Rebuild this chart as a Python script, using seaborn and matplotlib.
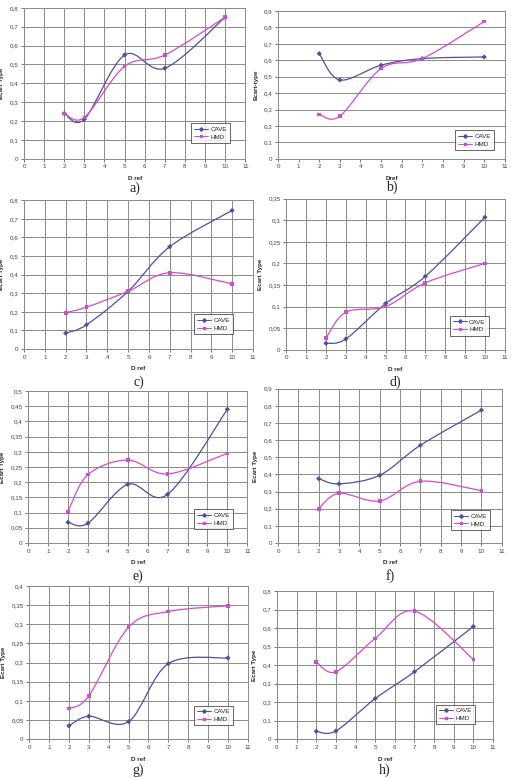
import numpy as np
import pandas as pd
import matplotlib
matplotlib.use("Agg")
import matplotlib.pyplot as plt
from matplotlib.path import Path
from matplotlib.patches import PathPatch
from matplotlib.lines import Line2D
from matplotlib.ticker import FuncFormatter, MultipleLocator
import seaborn as sns

d_ref = [2, 3, 5, 7, 10]

cave_a = [0.24, 0.21, 0.55, 0.48, 0.75]
hmd_a = [0.24, 0.22, 0.49, 0.55, 0.75]
cave_b = [0.64, 0.48, 0.57, 0.61, 0.62]
hmd_b = [0.27, 0.26, 0.55, 0.61, 0.835]
cave_c = [0.085, 0.13, 0.31, 0.55, 0.745]
hmd_c = [0.195, 0.225, 0.31, 0.41, 0.35]
cave_d = [0.015, 0.025, 0.107, 0.17, 0.307]
hmd_d = [0.027, 0.087, 0.1, 0.155, 0.2]
cave_e = [0.068, 0.065, 0.193, 0.16, 0.44]
hmd_e = [0.103, 0.225, 0.273, 0.227, 0.295]
cave_f = [0.375, 0.345, 0.395, 0.57, 0.775]
hmd_f = [0.2, 0.29, 0.245, 0.36, 0.305]
cave_g = [0.035, 0.06, 0.046, 0.197, 0.212]
hmd_g = [0.08, 0.113, 0.292, 0.333, 0.348]
cave_h = [0.043, 0.045, 0.22, 0.365, 0.61]
hmd_h = [0.418, 0.365, 0.545, 0.693, 0.432]

panel_labels = ['a)', 'b)', 'c)', 'd)', 'e)', 'f)', 'g)', 'h)']
ymax = [0.8, 0.9, 0.8, 0.35, 0.5, 0.9, 0.4, 0.8]
ystep = [0.1, 0.1, 0.1, 0.05, 0.05, 0.1, 0.05, 0.1]
xlabels = ['D ref', 'Dref', 'D ref', 'D ref', 'D ref', 'D ref', 'D ref', 'D ref']
ylabels = ['Ecart Type', 'Ecart-type', 'Ecart Type', 'Ecart Type',
           'Ecart Type', 'Ecart Type', 'Ecart Type', 'Ecart Type']
series = [(cave_a, hmd_a), (cave_b, hmd_b), (cave_c, hmd_c), (cave_d, hmd_d),
          (cave_e, hmd_e), (cave_f, hmd_f), (cave_g, hmd_g), (cave_h, hmd_h)]

# axes boxes in figure fraction [left, bottom, width, height]
boxes = [
    [0.047, 0.796, 0.432, 0.194],
    [0.543, 0.796, 0.443, 0.190],
    [0.047, 0.552, 0.447, 0.191],
    [0.559, 0.551, 0.427, 0.194],
    [0.055, 0.303, 0.428, 0.195],
    [0.543, 0.303, 0.437, 0.198],
    [0.057, 0.051, 0.427, 0.197],
    [0.541, 0.051, 0.422, 0.190],
]
legend_anchor = [(0.946, 0.086), (0.965, 0.04), (0.926, 0.08), (0.94, 0.073),
                 (0.95, 0.072), (0.96, 0.065), (0.945, 0.072), (0.93, 0.08)]
label_y = [0.750, 0.751, 0.501, 0.501, 0.251, 0.251, 0.002, 0.002]

colors = {'CAVE': '#4f4f9e', 'HMD': '#d04ccc'}
markers = {'CAVE': 'D', 'HMD': 's'}

sns.set_theme(style="white")
plt.rcParams['font.family'] = ['Liberation Sans', 'DejaVu Sans']


def smooth_path(xs, ys):
    # excel-like smoothed line: cubic bezier through the points
    p = np.column_stack([xs, ys]).astype(float)
    n = len(p)
    verts = [p[0]]
    codes = [Path.MOVETO]
    for i in range(n - 1):
        prev = p[max(i - 1, 0)]
        nxt = p[min(i + 2, n - 1)]
        c1 = p[i] + (p[i + 1] - prev) / 6
        c2 = p[i + 1] - (nxt - p[i]) / 6
        verts += [c1, c2, p[i + 1]]
        codes += [Path.CURVE4] * 3
    return Path(verts, codes)


fmt = FuncFormatter(lambda v, pos: f"{v:.2f}".rstrip('0').rstrip('.').replace('.', ','))

fig = plt.figure(figsize=(5.12, 7.79), dpi=100)

for k, (cave, hmd) in enumerate(series):
    ax = fig.add_axes(boxes[k])
    df = pd.DataFrame({
        'D ref': d_ref * 2,
        'Ecart Type': cave + hmd,
        'Serie': ['CAVE'] * len(d_ref) + ['HMD'] * len(d_ref),
    })
    for name, vals in [('CAVE', cave), ('HMD', hmd)]:
        ax.add_patch(PathPatch(smooth_path(d_ref, vals), facecolor='none',
                               edgecolor=colors[name], lw=0.9, zorder=3))
    sns.scatterplot(data=df, x='D ref', y='Ecart Type', hue='Serie', style='Serie',
                    palette=colors, markers=markers, s=7, linewidth=0,
                    legend=False, ax=ax, zorder=4)

    ax.set_xlim(0, 11)
    ax.set_ylim(0, ymax[k])
    ax.xaxis.set_major_locator(MultipleLocator(1))
    ax.yaxis.set_major_locator(MultipleLocator(ystep[k]))
    ax.yaxis.set_major_formatter(fmt)
    ax.grid(True, axis='y', color='#8a8a8a', lw=0.7)
    if k != 1:
        ax.grid(True, axis='x', color='#8a8a8a', lw=0.7)
    for s in ax.spines.values():
        s.set_color('#8a8a8a')
        s.set_linewidth(0.7)
    ax.tick_params(labelsize=4.5, length=2, width=0.5, pad=2,
                   colors='#444444', direction='out', bottom=True, left=True)
    ax.set_xlabel(xlabels[k], fontsize=4.5, fontweight='bold', labelpad=5)
    ax.set_ylabel(ylabels[k], fontsize=4.5, fontweight='bold', labelpad=4)

    handles = [Line2D([], [], color=colors[n], marker=markers[n], markersize=1.8,
                      lw=0.7, label=n) for n in ['CAVE', 'HMD']]
    leg = ax.legend(handles=handles, loc='lower right',
                    bbox_to_anchor=legend_anchor[k], fontsize=4.5,
                    frameon=True, fancybox=False, handlelength=2.2,
                    borderpad=0.5, labelspacing=0.4, handletextpad=0.4)
    leg.get_frame().set_edgecolor('#222222')
    leg.get_frame().set_linewidth(0.6)

    cx = boxes[k][0] + boxes[k][2] / 2
    fig.text(cx, label_y[k], panel_labels[k], ha='center', va='bottom',
             fontsize=10, family=['Liberation Serif', 'DejaVu Serif'])

fig.savefig("out.png", dpi=100)
